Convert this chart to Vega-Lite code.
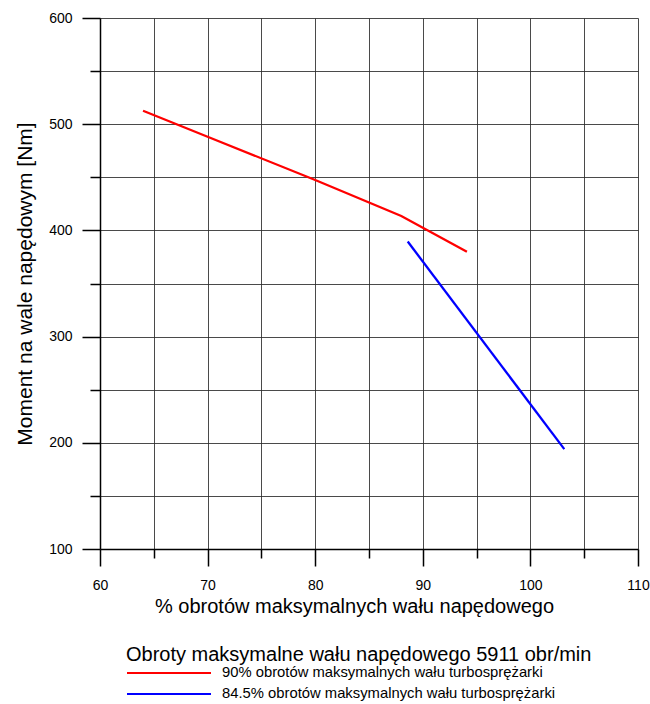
{
  "$schema": "https://vega.github.io/schema/vega-lite/v6.json",
  "autosize": "none",
  "padding": {"left": 100, "top": 18, "right": 12, "bottom": 155},
  "width": 538,
  "height": 531,
  "background": "white",
  "data": {
    "values": [
      {"x": 64.0, "y": 512.7, "s": "90% obrotów maksymalnych wału turbosprężarki"},
      {"x": 70.0, "y": 488.2, "s": "90% obrotów maksymalnych wału turbosprężarki"},
      {"x": 80.0, "y": 447.5, "s": "90% obrotów maksymalnych wału turbosprężarki"},
      {"x": 88.0, "y": 413.6, "s": "90% obrotów maksymalnych wału turbosprężarki"},
      {"x": 94.1, "y": 380.0, "s": "90% obrotów maksymalnych wału turbosprężarki"},
      {"x": 88.6, "y": 389.5, "s": "84.5% obrotów maksymalnych wału turbosprężarki"},
      {"x": 103.15, "y": 194.0, "s": "84.5% obrotów maksymalnych wału turbosprężarki"}
    ]
  },
  "mark": {"type": "line", "strokeWidth": 2.3, "clip": true},
  "encoding": {
    "x": {
      "field": "x",
      "type": "quantitative",
      "scale": {"domain": [60, 110], "nice": false, "zero": false},
      "axis": {
        "title": "% obrotów maksymalnych wału napędowego",
        "values": [60, 65, 70, 75, 80, 85, 90, 95, 100, 105, 110],
        "labelExpr": "datum.value % 10 === 0 ? datum.label : ''",
        "tickSize": {"condition": {"test": "datum.value % 10 === 0", "value": 17}, "value": 9},
        "labelPadding": 12,
        "titlePadding": 4,
        "titleX": 254,
        "titleAnchor": "start",
        "titleAlign": "center",
        "labelFlush": false,
        "labelOverlap": false
      }
    },
    "y": {
      "field": "y",
      "type": "quantitative",
      "scale": {"domain": [100, 600], "nice": false, "zero": false},
      "axis": {
        "title": "Moment na wale napędowym [Nm]",
        "values": [100, 150, 200, 250, 300, 350, 400, 450, 500, 550, 600],
        "labelExpr": "datum.value % 100 === 0 ? datum.label : ''",
        "tickSize": {"condition": {"test": "datum.value % 100 === 0", "value": 18}, "value": 10},
        "labelPadding": 10,
        "titlePadding": 13,
        "titleFontSize": 21,
        "labelFlush": false,
        "labelOverlap": false
      }
    },
    "color": {
      "field": "s",
      "type": "nominal",
      "sort": null,
      "scale": {
        "domain": ["90% obrotów maksymalnych wału turbosprężarki", "84.5% obrotów maksymalnych wału turbosprężarki"],
        "range": ["#ff0000", "#0000ff"]
      },
      "legend": {
        "title": "Obroty maksymalne wału napędowego 5911 obr/min",
        "orient": "none",
        "legendX": 26,
        "legendY": 627,
        "symbolType": "M-1,0H11",
        "symbolSize": 196,
        "symbolStrokeWidth": 2,
        "symbolFillColor": "transparent",
        "labelOffset": 80,
        "rowPadding": 6,
        "titlePadding": 0,
        "padding": 0
      }
    }
  },
  "config": {
    "view": {"stroke": null},
    "font": "Liberation Sans",
    "axis": {
      "labelFont": "Liberation Sans",
      "labelFontSize": 14,
      "labelColor": "black",
      "titleFont": "Liberation Sans",
      "titleFontSize": 20,
      "titleFontWeight": "normal",
      "titleColor": "black",
      "domainColor": "black",
      "domainWidth": 1.5,
      "tickColor": "black",
      "tickWidth": 1.5,
      "grid": true,
      "gridColor": "#2a2a2a",
      "gridWidth": 1,
      "gridOpacity": 0.85
    },
    "legend": {
      "titleFont": "Liberation Sans",
      "titleFontSize": 20,
      "titleFontWeight": "normal",
      "titleColor": "black",
      "titleLimit": 600,
      "labelFont": "Liberation Sans",
      "labelFontSize": 14.8,
      "labelColor": "black",
      "labelLimit": 500
    }
  }
}
